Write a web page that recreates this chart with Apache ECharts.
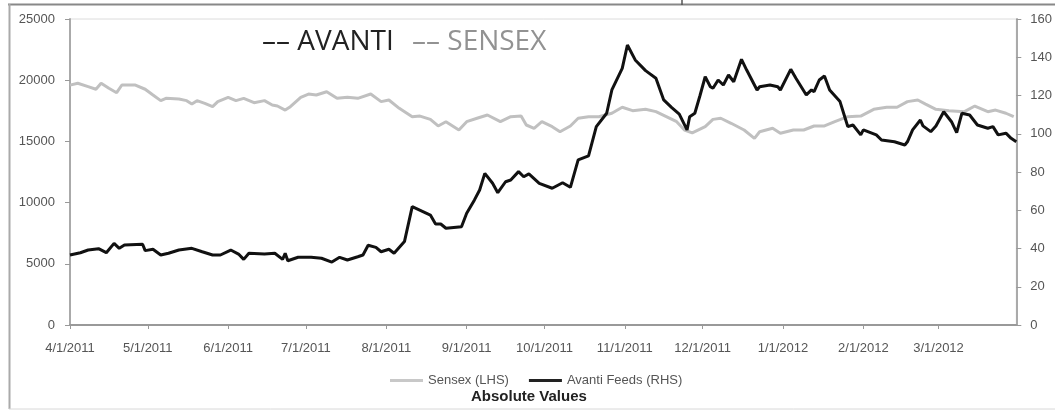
<!DOCTYPE html>
<html>
<head>
<meta charset="utf-8">
<script src="https://cdn.jsdelivr.net/npm/echarts@6/dist/echarts.min.js"></script>
<style>
    html, body { margin: 0; padding: 0; background: #fff; }
    #main { width: 1055px; height: 411px; }
</style>
</head>
<body>
<div id="main"></div>
<script>
// Sensex (LHS)
var sensexDates = ['2011-04-01', '2011-04-04', '2011-04-08', '2011-04-11', '2011-04-13', '2011-04-16', '2011-04-19', '2011-04-21', '2011-04-26', '2011-04-30',
    '2011-05-03', '2011-05-06', '2011-05-08', '2011-05-13', '2011-05-16', '2011-05-18', '2011-05-20', '2011-05-23', '2011-05-26', '2011-05-28',
    '2011-06-01', '2011-06-04', '2011-06-07', '2011-06-11', '2011-06-15', '2011-06-18', '2011-06-20', '2011-06-23', '2011-06-25', '2011-06-29',
    '2011-07-02', '2011-07-05', '2011-07-09', '2011-07-13', '2011-07-17', '2011-07-21', '2011-07-26', '2011-07-30',
    '2011-08-02', '2011-08-06', '2011-08-11', '2011-08-14', '2011-08-18', '2011-08-21', '2011-08-24', '2011-08-29',
    '2011-09-01', '2011-09-05', '2011-09-09', '2011-09-14', '2011-09-18', '2011-09-22', '2011-09-24', '2011-09-27', '2011-09-30',
    '2011-10-04', '2011-10-07', '2011-10-11', '2011-10-14', '2011-10-18', '2011-10-22', '2011-10-27', '2011-10-31',
    '2011-11-04', '2011-11-09', '2011-11-13', '2011-11-17', '2011-11-21', '2011-11-24', '2011-11-27',
    '2011-12-02', '2011-12-05', '2011-12-08', '2011-12-12', '2011-12-17', '2011-12-21', '2011-12-23', '2011-12-28', '2011-12-31',
    '2012-01-05', '2012-01-09', '2012-01-13', '2012-01-17', '2012-01-21', '2012-01-26', '2012-01-31',
    '2012-02-05', '2012-02-10', '2012-02-14', '2012-02-18', '2012-02-22', '2012-02-25', '2012-02-29',
    '2012-03-05', '2012-03-11', '2012-03-15', '2012-03-20', '2012-03-23', '2012-03-27', '2012-03-30'];
var sensexValues = [19600, 19750, 19470, 19260, 19750, 19340, 18980, 19610, 19610, 19260,
    18790, 18330, 18520, 18460, 18330, 18050, 18330, 18110, 17840, 18250,
    18600, 18330, 18520, 18160, 18330, 17970, 17890, 17560, 17840, 18600,
    18870, 18790, 19060, 18520, 18600, 18520, 18870, 18250,
    18380, 17700, 17020, 17070, 16800, 16260, 16610, 15930,
    16610, 16890, 17160, 16610, 17020, 17070, 16340, 16070, 16610,
    16200, 15790, 16260, 16890, 17020, 17020, 17300, 17790,
    17510, 17620, 17430, 17020, 16610, 15930, 15700,
    16200, 16800, 16890, 16480, 15930, 15250, 15790, 16070, 15660,
    15930, 15930, 16260, 16260, 16610, 17020, 17070,
    17620, 17790, 17790, 18250, 18380, 18050, 17620,
    17510, 17430, 17890, 17430, 17560, 17300, 17020];

// Avanti Feeds (RHS)
var avantiDates = ['2011-04-01', '2011-04-05', '2011-04-08', '2011-04-12', '2011-04-15', '2011-04-18', '2011-04-20', '2011-04-22', '2011-04-29', '2011-04-30',
    '2011-05-03', '2011-05-06', '2011-05-09', '2011-05-13', '2011-05-18', '2011-05-22', '2011-05-26', '2011-05-29',
    '2011-06-02', '2011-06-05', '2011-06-07', '2011-06-09', '2011-06-15', '2011-06-19', '2011-06-22', '2011-06-23', '2011-06-24', '2011-06-28',
    '2011-07-03', '2011-07-07', '2011-07-11', '2011-07-14', '2011-07-17', '2011-07-21', '2011-07-23', '2011-07-25', '2011-07-28', '2011-07-30',
    '2011-08-02', '2011-08-04', '2011-08-08', '2011-08-11', '2011-08-18', '2011-08-20', '2011-08-22', '2011-08-24', '2011-08-30',
    '2011-09-01', '2011-09-04', '2011-09-06', '2011-09-08', '2011-09-11', '2011-09-13', '2011-09-16', '2011-09-18', '2011-09-21', '2011-09-23', '2011-09-25', '2011-09-29',
    '2011-10-04', '2011-10-08', '2011-10-11', '2011-10-14', '2011-10-18', '2011-10-21', '2011-10-25', '2011-10-27', '2011-10-31',
    '2011-11-02', '2011-11-05', '2011-11-09', '2011-11-13', '2011-11-16', '2011-11-19', '2011-11-22', '2011-11-25', '2011-11-26', '2011-11-28', '2011-11-30',
    '2011-12-02', '2011-12-04', '2011-12-05', '2011-12-07', '2011-12-09', '2011-12-11', '2011-12-13', '2011-12-16', '2011-12-18', '2011-12-22', '2011-12-23', '2011-12-27', '2011-12-30', '2011-12-31',
    '2012-01-04', '2012-01-06', '2012-01-10', '2012-01-12', '2012-01-13', '2012-01-15', '2012-01-17', '2012-01-19', '2012-01-23', '2012-01-25', '2012-01-26', '2012-01-28', '2012-01-31',
    '2012-02-01', '2012-02-06', '2012-02-08', '2012-02-13', '2012-02-17', '2012-02-18', '2012-02-20', '2012-02-23', '2012-02-24', '2012-02-27', '2012-02-29',
    '2012-03-03', '2012-03-06', '2012-03-08', '2012-03-10', '2012-03-13', '2012-03-16', '2012-03-20', '2012-03-22', '2012-03-24', '2012-03-27', '2012-03-29', '2012-03-31'];
var avantiValues = [36.6, 37.8, 39.2, 39.9, 37.8, 42.7, 40.1, 41.8, 42.2, 38.9,
    39.6, 36.6, 37.5, 39.2, 40.1, 38.3, 36.6, 36.6,
    39.2, 37.1, 34.3, 37.5, 37.1, 37.5, 34.3, 37.5, 33.6, 35.4,
    35.4, 34.9, 32.9, 35.4, 34.0, 35.7, 36.6, 41.7, 40.6, 38.3,
    39.6, 37.5, 43.6, 61.9, 57.5, 52.8, 52.8, 50.6, 51.4,
    58.4, 65.4, 70.6, 79.3, 74.1, 69.2, 74.9, 75.8, 80.2, 77.5, 79.0, 74.1,
    71.5, 74.4, 72.0, 86.3, 88.4, 103.7, 110.7, 122.9, 134.2,
    146.4, 138.6, 133.0, 129.0, 117.7, 113.8, 110.3, 102.0, 108.9, 110.7, 120.0,
    129.8, 124.6, 123.8, 128.1, 125.5, 130.7, 127.2, 138.9, 133.3, 122.9, 124.6, 125.5, 124.6, 122.9,
    133.7, 129.0, 120.3, 122.9, 122.0, 128.1, 130.2, 122.9, 116.8, 108.1, 103.7, 104.6, 99.4,
    102.0, 99.4, 96.7, 95.8, 94.1, 95.8, 102.0, 107.2, 104.1, 101.1, 104.1,
    111.5, 106.3, 100.6, 110.7, 109.8, 104.6, 102.9, 103.7, 99.4, 100.3, 97.6, 95.8];

var leftTicks = [0, 5000, 10000, 15000, 20000, 25000];
var rightTicks = [0, 20, 40, 60, 80, 100, 120, 140, 160];
var xStart = '2011-04-01';
var xEnd = '2012-03-31';

function zip(a, b) {
    var out = [];
    a.forEach(function (d, i) {
        out.push([d, b[i]]);
    });
    return out;
}

var chartDom = document.getElementById('main');
var myChart = echarts.init(chartDom);

var labelFont = {
    color: '#555',
    fontFamily: 'Liberation Sans, Arial, sans-serif',
    fontSize: 13
};

//plain numbers, no thousands separator
function plain(v) {
    return String(v);
}

var option = {
    animation: false,
    backgroundColor: '#fff',
    grid: {
        left: 70,
        right: 37,
        top: 19,
        bottom: 86,
        show: true,
        borderColor: '#dcdcdc',
        borderWidth: 1
    },
    legend: {
        left: 385,
        top: 369,
        itemGap: 20,
        itemWidth: 33,
        itemHeight: 3,
        icon: 'rect',
        textStyle: labelFont,
        data: [{
            name: 'Sensex (LHS)',
            itemStyle: { color: '#c8c8c8' }
        }, {
            name: 'Avanti Feeds (RHS)',
            itemStyle: { color: '#222' }
        }]
    },
    xAxis: {
        type: 'time',
        min: xStart,
        max: xEnd,
        splitNumber: 12,
        splitLine: { show: false },
        axisLine: { lineStyle: { color: '#999', width: 2 } },
        axisTick: { show: true, length: 4, lineStyle: { color: '#999' } },
        axisLabel: Object.assign({
            margin: 17,
            showMaxLabel: false,
            formatter: function (val) {
                var d = new Date(val);
                return (d.getMonth() + 1) + '/' + d.getDate() + '/' + d.getFullYear();
            }
        }, labelFont)
    },
    yAxis: [{
        type: 'value',
        min: leftTicks[0],
        max: leftTicks[leftTicks.length - 1],
        interval: leftTicks[1] - leftTicks[0],
        splitLine: { show: false },
        axisLine: { show: true, lineStyle: { color: '#aaa', width: 2 } },
        axisTick: { show: true, length: 5, lineStyle: { color: '#999' } },
        axisLabel: Object.assign({ margin: 15, formatter: plain }, labelFont)
    }, {
        type: 'value',
        position: 'right',
        min: rightTicks[0],
        max: rightTicks[rightTicks.length - 1],
        interval: rightTicks[1] - rightTicks[0],
        splitLine: { show: false },
        axisLine: { show: true, lineStyle: { color: '#aaa', width: 2 } },
        axisTick: { show: true, length: 5, lineStyle: { color: '#999' } },
        axisLabel: Object.assign({ margin: 14, formatter: plain }, labelFont)
    }],
    series: [{
        name: 'Sensex (LHS)',
        type: 'line',
        yAxisIndex: 0,
        showSymbol: false,
        data: zip(sensexDates, sensexValues),
        lineStyle: { color: '#c0c0c0', width: 3 },
        itemStyle: { color: '#c0c0c0' },
        z: 2
    }, {
        name: 'Avanti Feeds (RHS)',
        type: 'line',
        yAxisIndex: 1,
        showSymbol: false,
        data: zip(avantiDates, avantiValues),
        lineStyle: { color: '#111', width: 3 },
        itemStyle: { color: '#111' },
        z: 3
    }],
    graphic: [{
        // frame around the picture
        type: 'line',
        shape: { x1: 8, y1: 4.5, x2: 1055, y2: 4.5 },
        style: { stroke: '#888', lineWidth: 2 }
    }, {
        type: 'line',
        shape: { x1: 682, y1: 0, x2: 682, y2: 5 },
        style: { stroke: '#555', lineWidth: 1.5 }
    }, {
        type: 'line',
        shape: { x1: 9.5, y1: 4, x2: 9.5, y2: 409 },
        style: { stroke: '#aaa', lineWidth: 2 }
    }, {
        type: 'line',
        shape: { x1: 9, y1: 409, x2: 1055, y2: 409 },
        style: { stroke: '#d8d8d8', lineWidth: 1 }
    }, {
        type: 'text',
        left: 262,
        top: 28,
        style: {
            text: '–– AVANTI',
            fill: '#222',
            font: '28px "Open Sans", sans-serif'
        }
    }, {
        type: 'text',
        left: 412,
        top: 28,
        style: {
            text: '–– SENSEX',
            fill: '#929292',
            font: '28px "Open Sans", sans-serif'
        }
    }, {
        type: 'text',
        left: 471,
        top: 389,
        style: {
            text: 'Absolute Values',
            fill: '#222',
            font: 'bold 15px "Liberation Sans", Arial, sans-serif'
        }
    }]
};

option && myChart.setOption(option);
</script>
</body>
</html>
